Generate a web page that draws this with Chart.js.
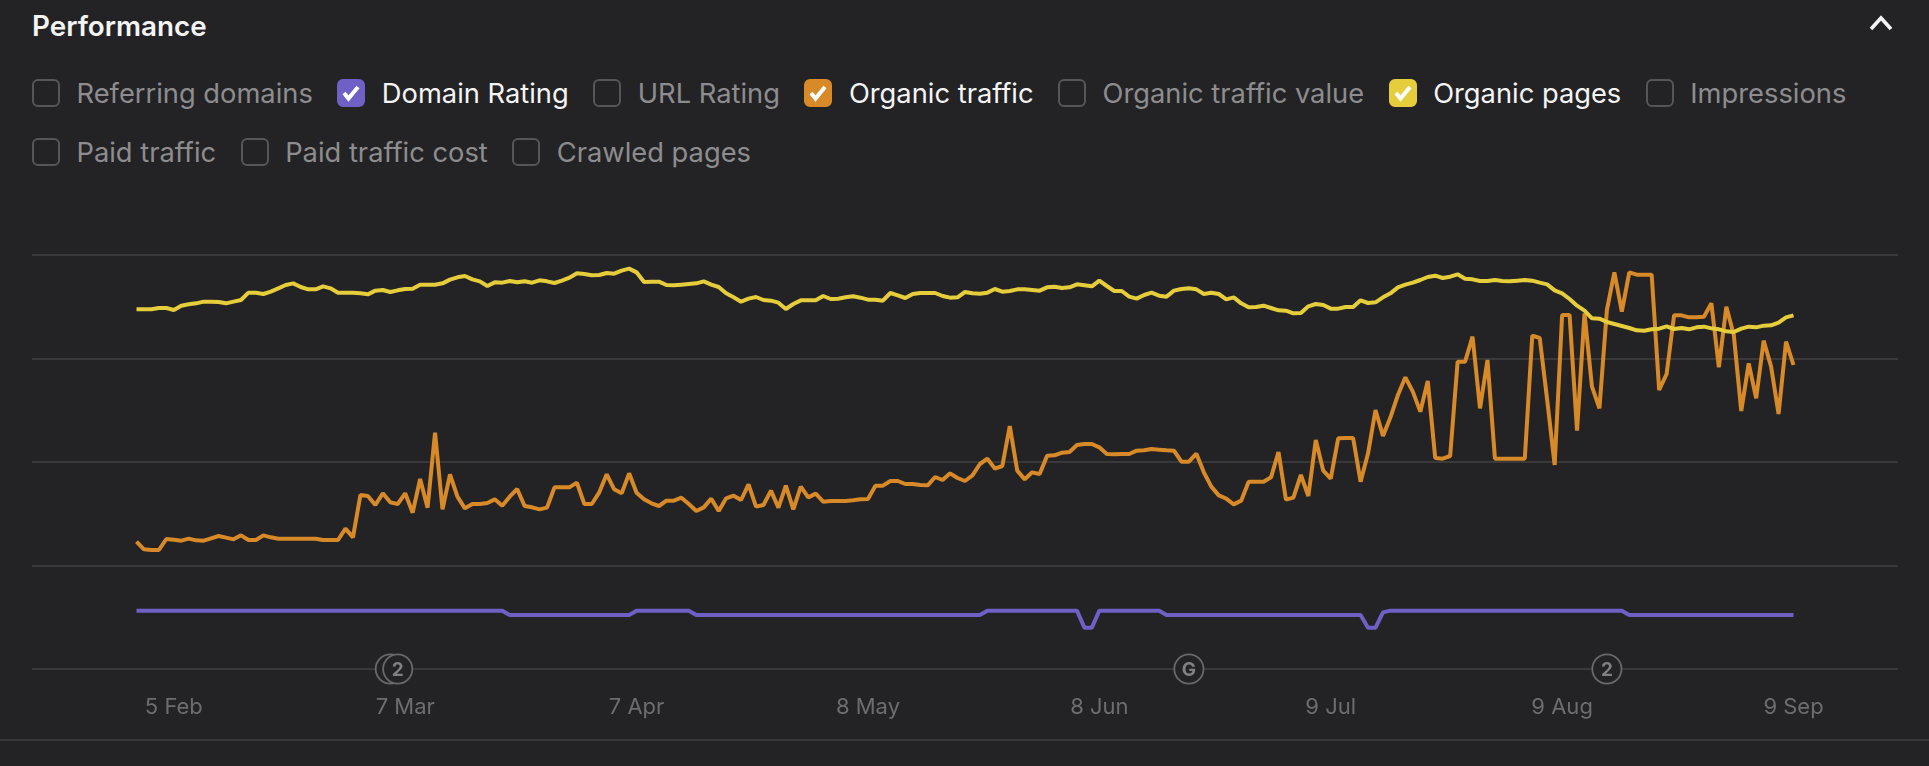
<!DOCTYPE html>
<html>
<head>
<meta charset="utf-8">
<title>Performance</title>
<script src="https://cdn.jsdelivr.net/npm/chart.js@4"></script>
<style>
  html, body { margin: 0; padding: 0; background: #232325; }
  body { width: 1929px; height: 766px; position: relative; overflow: hidden; font-family: Inter, sans-serif; }
  canvas { position: absolute; left: 0; top: 0; }
  .title { position: absolute; left: 32px; top: 10px; font-size: 27.8px; line-height: 32px; font-weight: 600; color: #f4f4f4; }
  .chevron { position: absolute; left: 1868px; top: 12px; }
  .legend { position: absolute; left: 32px; top: 79px; width: 1850px; display: flex; flex-wrap: wrap; row-gap: 31px; column-gap: 24.5px; }
  .item { display: flex; align-items: center; height: 28px; font-size: 27.3px; color: #8d8d8f; }
  .item.on { color: #f4f4f4; }
  .box { width: 24px; height: 24px; margin-right: 16.5px; border: 2px solid #565658; border-radius: 6px; position: relative; }
  .box svg { position: absolute; left: -2px; top: -2px; }
  .rule { position: absolute; left: 0; right: 0; top: 739px; height: 2px; background: #39393b; }
</style>
</head>
<body>
<div class="title">Performance</div>
<svg class="chevron" width="26" height="24"><polyline points="3,17 13,6 23,17" fill="none" stroke="#f4f4f4" stroke-width="3.6"/></svg>
<div class="legend" id="legend"></div>
<div class="rule"></div>
<canvas id="chart" width="1929" height="766"></canvas>
<script>
// no y labels in the picture, so values are in plain index units (0 - 1242)
const domainRating = [
  175,175,175,175,175,175,175,175,175,175, 175,175,175,175,175,175,175,175,175,175,
  175,175,175,175,175,175,175,175,175,175, 175,175,175,175,175,175,175,175,175,175,
  175,175,175,175,175,175,175,175,175,175, 162,162,162,162,162,162,162,162,162,162,
  162,162,162,162,162,162,162,175,175,175, 175,175,175,175,175,162,162,162,162,162,
  162,162,162,162,162,162,162,162,162,162, 162,162,162,162,162,162,162,162,162,162,
  162,162,162,162,162,162,162,162,162,162, 162,162,162,162,175,175,175,175,175,175,
  175,175,175,175,175,175,175,124,124,175, 175,175,175,175,175,175,175,175,162,162,
  162,162,162,162,162,162,162,162,162,162, 162,162,162,162,162,162,162,162,162,162,
  162,162,162,162,162,124,124,170,175,175, 175,175,175,175,175,175,175,175,175,175,
  175,175,175,175,175,175,175,175,175,175, 175,175,175,175,175,175,175,175,175,175,
  162,162,162,162,162,162,162,162,162,162, 162,162,162,162,162,162,162,162,162,162,
  162,162,162
];
const organicTraffic = [
  382,359,357,357,390,388,385,391,386,385, 392,399,394,389,401,387,387,401,395,391,
  391,391,391,391,391,387,387,387,421,395, 522,519,492,527,500,495,527,469,570,484,
  709,479,584,517,482,495,495,498,509,490, 517,540,489,485,479,484,545,545,545,559,
  495,495,530,584,539,527,587,529,509,497, 489,505,505,514,495,474,485,511,474,512,
  520,507,554,487,492,535,484,550,479,547, 515,526,502,504,504,504,506,509,510,550,
  550,564,564,555,555,552,551,576,567,587, 573,564,581,615,631,601,609,729,595,569,
  590,585,640,641,649,651,672,675,675,665, 645,644,645,645,655,656,660,658,656,655,
  622,622,646,590,547,521,511,494,505,562, 562,562,575,651,508,514,582,519,687,595,
  571,692,693,693,562,647,777,699,755,822, 875,832,772,864,633,631,639,922,922,997,
  782,927,631,631,631,631,631,1000,993,807, 612,1062,1062,715,1067,847,782,1077,1190,1072,
  1190,1183,1183,1183,837,885,1061,1061,1055,1055, 1057,1097,905,1087,1002,774,917,812,985,907,
  765,982,912
];
const organicPages = [
  1079,1079,1079,1083,1083,1077,1090,1094,1097,1102, 1102,1101,1097,1102,1107,1129,1129,1125,1132,1142,
  1152,1157,1146,1139,1139,1148,1142,1129,1129,1129, 1127,1124,1135,1137,1131,1136,1140,1141,1153,1153,
  1153,1157,1168,1175,1179,1169,1163,1149,1160,1159, 1164,1160,1163,1159,1166,1163,1158,1165,1174,1187,
  1185,1181,1182,1188,1186,1195,1201,1190,1161,1162, 1162,1152,1151,1153,1155,1157,1163,1153,1146,1127,
  1115,1102,1111,1116,1107,1105,1099,1080,1095,1106, 1106,1106,1119,1110,1111,1115,1118,1114,1108,1108,
  1105,1128,1121,1113,1125,1128,1128,1128,1119,1114, 1115,1131,1127,1126,1129,1140,1132,1134,1139,1139,
  1137,1135,1145,1147,1143,1145,1154,1151,1148,1165, 1149,1134,1134,1117,1111,1122,1129,1120,1117,1135,
  1140,1142,1139,1125,1129,1125,1109,1115,1097,1085, 1086,1090,1083,1076,1075,1067,1068,1088,1095,1092,
  1081,1081,1086,1086,1106,1098,1100,1115,1127,1145, 1153,1159,1167,1176,1180,1173,1177,1184,1171,1169,
  1164,1164,1167,1164,1163,1165,1167,1165,1159,1154, 1136,1127,1110,1090,1075,1052,1051,1041,1035,1029,
  1023,1016,1015,1019,1021,1028,1020,1023,1019,1025, 1027,1022,1019,1013,1011,1021,1027,1025,1030,1031,
  1039,1055,1061
];

// day 0 is 31 Jan
const tickDays = [5, 36, 67, 98, 129, 160, 191, 222];
const tickLabels = ["5 Feb", "7 Mar", "7 Apr", "8 May", "8 Jun", "9 Jul", "9 Aug", "9 Sep"];

const markerDays = [34, 35, 141, 197];
const markerLabels = ["", "2", "G", "2"];

const legendNames = ["Referring domains", "Domain Rating", "URL Rating", "Organic traffic", "Organic traffic value",
  "Organic pages", "Impressions", "Paid traffic", "Paid traffic cost", "Crawled pages"];
const legendColors = { "Domain Rating": "#6f60c6", "Organic traffic": "#d98a28", "Organic pages": "#e6cd3c" };

const legend = document.getElementById("legend");
legendNames.forEach((name) => {
  const color = legendColors[name];
  const item = document.createElement("div");
  item.className = color ? "item on" : "item";
  const check = color ? `<svg width="28" height="28"><polyline points="7,14 11.5,19.5 21,8" fill="none" stroke="#fff" stroke-width="4"/></svg>` : "";
  item.innerHTML = `<span class="box" style="${color ? "background:" + color + ";border-color:" + color : ""}">${check}</span><span>${name}</span>`;
  legend.appendChild(item);
});

const toPoints = (values) => values.map((y, x) => ({ x, y }));

const lineStyle = { borderWidth: 4, borderJoinStyle: "bevel", pointRadius: 0, tension: 0, fill: false };

// the round event badges that sit on the x axis
const markerPlugin = {
  id: "markers",
  afterDatasetsDraw(chart) {
    const { ctx, scales } = chart;
    const y = scales.y.getPixelForValue(0);
    markerDays.forEach((day, i) => {
      const x = scales.x.getPixelForValue(day);
      ctx.save();
      ctx.beginPath();
      ctx.arc(x, y, 14.6, 0, Math.PI * 2);
      ctx.fillStyle = "#232325";
      ctx.fill();
      ctx.lineWidth = 1.8;
      ctx.strokeStyle = "#69696b";
      ctx.stroke();
      ctx.fillStyle = "#808082";
      ctx.font = "700 19px Inter";
      ctx.textAlign = "center";
      ctx.textBaseline = "middle";
      ctx.fillText(markerLabels[i], x, y + 1);
      ctx.restore();
    });
  },
};

new Chart(document.getElementById("chart"), {
  type: "line",
  data: {
    datasets: [
      { label: "Organic pages", data: toPoints(organicPages), borderColor: "#e6cd3c", ...lineStyle },
      { label: "Organic traffic", data: toPoints(organicTraffic), borderColor: "#d98a28", ...lineStyle },
      { label: "Domain Rating", data: toPoints(domainRating), borderColor: "#6f60c6", ...lineStyle },
    ],
  },
  options: {
    responsive: false,
    animation: false,
    layout: { padding: { left: 32, right: 31, top: 255, bottom: 0 } },
    plugins: { legend: { display: false }, tooltip: { enabled: false } },
    scales: {
      x: {
        type: "linear",
        min: -14,
        max: 236,
        grid: { display: false },
        border: { display: false },
        afterBuildTicks: (scale) => {
          scale.ticks = tickDays.map((value) => ({ value }));
        },
        afterFit: (scale) => {
          scale.height = 97;
        },
        ticks: {
          autoSkip: false,
          maxRotation: 0,
          padding: 17,
          color: "#6d6d6f",
          font: { family: "Inter", size: 22 },
          callback: (value) => tickLabels[tickDays.indexOf(value)],
        },
      },
      y: {
        min: 0,
        max: 1242,
        afterBuildTicks: (scale) => {
          scale.ticks = [0, 310.5, 621, 931.5, 1242].map((value) => ({ value }));
        },
        grid: { color: "#39393b", lineWidth: 2, drawTicks: false },
        border: { display: false },
        ticks: { display: false },
      },
    },
  },
  plugins: [markerPlugin],
});
</script>
</body>
</html>
